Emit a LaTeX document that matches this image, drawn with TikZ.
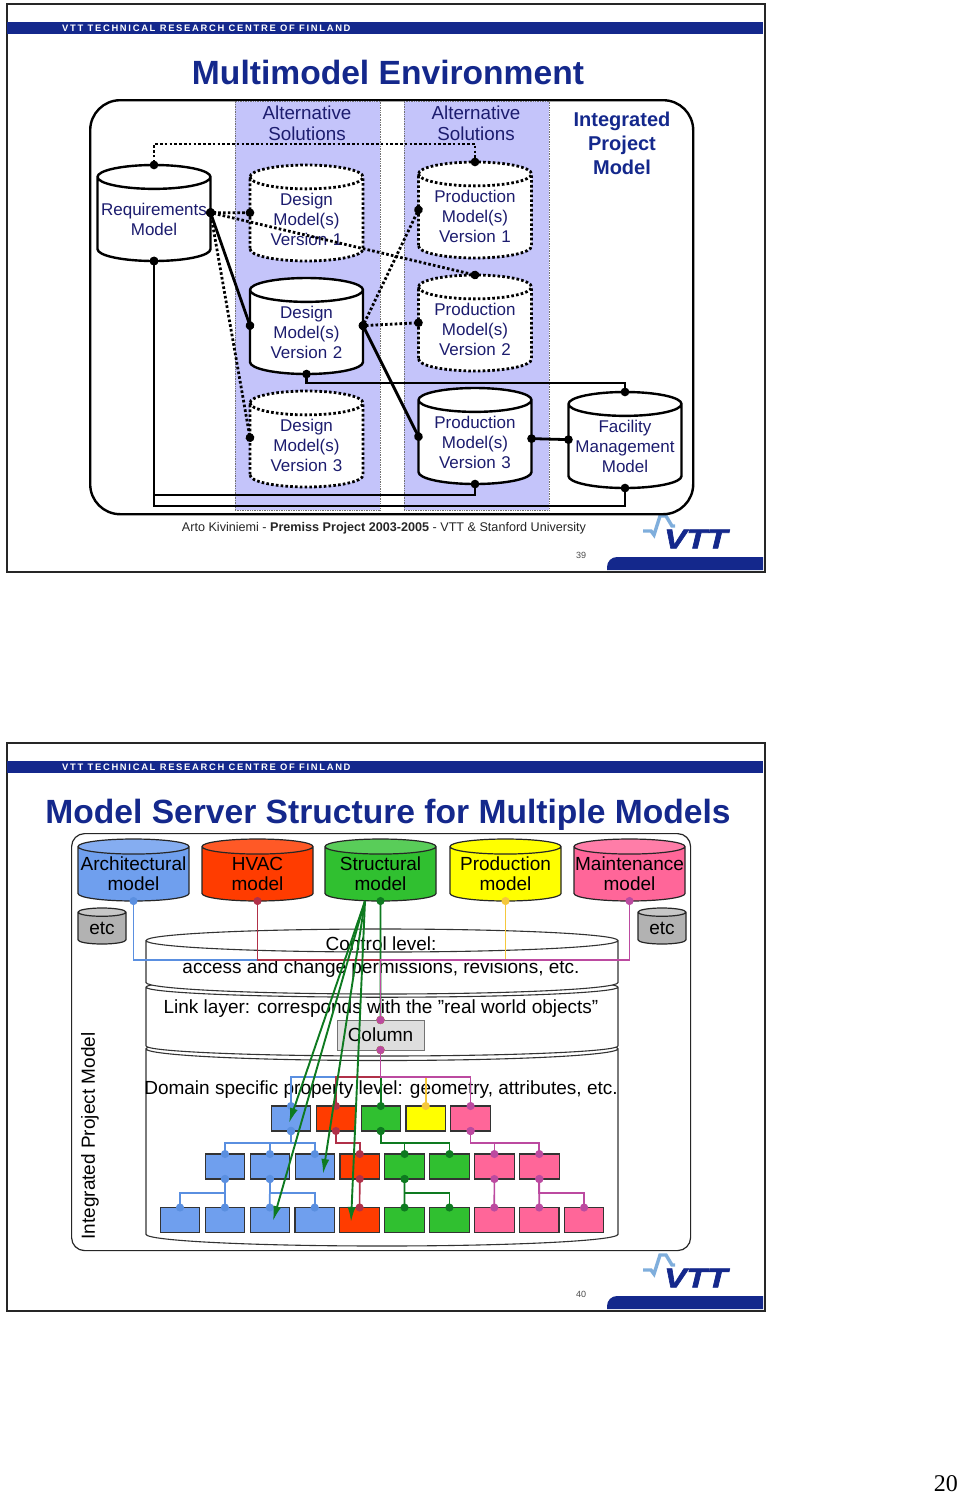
\documentclass[tikz,border=0pt]{standalone}
\usepackage{fontspec}
\setmainfont{Liberation Sans}
\usetikzlibrary{arrows.meta,positioning,shapes.geometric,calc}
\definecolor{vttnavy}{HTML}{14288C}
\definecolor{inkblue}{HTML}{1C1C6E}
\definecolor{bandblue}{HTML}{C4C4FA}
\definecolor{archblue}{HTML}{6F9FEE}
\definecolor{linkblue}{HTML}{5A8FE0}
\definecolor{hvacred}{HTML}{FF3C00}
\definecolor{linkred}{HTML}{B03048}
\definecolor{strgreen}{HTML}{30C030}
\definecolor{linkgreen}{HTML}{0E7A20}
\definecolor{prodyellow}{HTML}{FFFF00}
\definecolor{linkyellow}{HTML}{F5C83C}
\definecolor{maintpink}{HTML}{FF6699}
\definecolor{linkpink}{HTML}{BC4AA0}
\definecolor{logoblue}{HTML}{7FAEDC}
\newcommand{\fs}[2]{\fontsize{#1}{#2}\selectfont}
% frame, header bar, page number and logo of one slide
\newcommand{\slidebase}[2]{
\begin{scope}[shift={(0,#1)}]
\node[anchor=north west, draw=black!85, line width=2.4pt, minimum width=758pt, minimum height=568pt, fill=white] (page#2) at (6,3) {};
\node[anchor=north west, fill=vttnavy, minimum width=756pt, minimum height=12pt] (bar#2) at (7,22) {};
\node[anchor=west, text=white, font=\fs{9.4}{10}\bfseries\addfontfeature{LetterSpace=18}, inner sep=0pt] (org#2) at (62,28) {VTT TECHNICAL RESEARCH CENTRE OF FINLAND};
\fill[vttnavy] (607,570) [rounded corners=10pt] -- (607,557) [sharp corners] -- (763,557) -- (763,570) -- cycle;
\draw[line width=3.4pt, color=logoblue] (643,531) -- (651,531) -- (654,535) -- (660,516) -- (666,516) -- (672,526) -- (675,526);
\node[anchor=south west, inner sep=0pt, text=vttnavy, font=\fs{27}{27}\bfseries\itshape\addfontfeature{FakeBold=2}] (vtt#2) at (664,548.5) {\scalebox{1.24}[1]{VTT}};
\node[text=black!70, font=\fs{9}{10}, inner sep=0pt] (num#2) at (581,555) {#2};
\end{scope}
}
\begin{document}
\begin{tikzpicture}[
  x=1pt, y=-1pt,
  node distance=5.4pt,
  db/.style={cylinder, shape border rotate=90, aspect=.215, draw=black, line width=2.4pt, fill=white, minimum width=113pt, minimum height=96pt, text width=111pt, inner sep=0pt, outer sep=0pt, align=center, text=inkblue, font=\fs{17}{20}},
  dbdot/.style={db, dash pattern=on 2.6pt off 2.2pt, line width=2.8pt},
  band/.style={rectangle, anchor=north west, fill=bandblue, draw=black!55, densely dotted, line width=.7pt, minimum width=145pt, minimum height=409pt},
  head/.style={align=center, text=inkblue, inner sep=0pt, font=\fs{18.8}{21}},
  hard/.style={{Circle[length=8.5pt,sep=-4.2pt]}-{Circle[length=8.5pt,sep=-4.2pt]}, line width=2.8pt},
  soft/.style={hard, dash pattern=on 2.6pt off 2.2pt, line width=2.8pt},
  model/.style={cylinder, shape border rotate=90, aspect=.138, draw=black!85, line width=1.2pt, minimum width=111pt, minimum height=62pt, text width=109pt, inner sep=0pt, outer sep=0pt, align=center, anchor=north, font=\fs{19}{20}},
  etcdb/.style={model, aspect=.18, minimum width=48pt, minimum height=36pt, text width=46pt, cylinder uses custom fill, cylinder body fill=black!30, cylinder end fill=black!22},
  layer/.style={cylinder, shape border rotate=90, draw=black!80, line width=1.1pt, fill=white, minimum width=472pt, text width=470pt, inner sep=0pt, outer sep=0pt, anchor=north},
  txt/.style={align=center, inner sep=0pt, font=\fs{19}{23}},
  blk/.style={rectangle, draw=black!80, line width=1.1pt, minimum width=39.5pt, minimum height=25pt, inner sep=0pt, outer sep=0pt},
  tie/.style={{Circle[length=8pt,sep=-4pt]}-{Circle[length=8pt,sep=-4pt]}, line width=1.7pt},
  cross/.style={-{Latex[length=15pt,width=8pt]}, line width=1.9pt, draw=linkgreen}
]
\useasboundingbox (0,0) rectangle (960,1494);
\fill[white] (0,0) rectangle (960,1494);

\slidebase{0}{39}
\slidebase{739}{40}

% first slide
\node[font=\fs{33.6}{36}\bfseries, text=vttnavy, inner sep=0pt] (titlea) at (388,72) {Multimodel Environment};
\node[anchor=north west, draw=black, line width=2.4pt, rounded corners=30pt, minimum width=603pt, minimum height=414pt] (ipma) at (89,99) {};
\node[band] (banda) at (234.5,100.5) {};
\node[band] (bandb) at (404,100.5) {};
\node[head] (alta) at (307,123) {Alternative\\Solutions};
\node[head] (altb) at (476,123) {Alternative\\Solutions};
\node[align=center, text=vttnavy, inner sep=0pt, font=\fs{20}{24}\bfseries] (ipmlabel) at (622,143) {Integrated\\Project\\Model};

\node[db, anchor=north] (req) at (154,165) {Requirements\\Model};
\node[dbdot, anchor=north] (desa) at (306.5,165) {Design\\Model(s)\\Version 1};
\node[db, below=17pt of desa] (desb) {Design\\Model(s)\\Version 2};
\node[dbdot, below=17pt of desb] (desc) {Design\\Model(s)\\Version 3};
\node[dbdot, anchor=north] (proa) at (475,162) {Production\\Model(s)\\Version 1};
\node[dbdot, below=17pt of proa] (prob) {Production\\Model(s)\\Version 2};
\node[db, below=17pt of prob] (proc) {Production\\Model(s)\\Version 3};
\node[db, anchor=north] (fac) at (625,392) {Facility\\Management\\Model};

\draw[soft] (req.north) -- ++(0,-21) -| (proa.north);
\draw[soft] (req.7) -- (desa.173);
\draw[soft] (req.7) -- (prob.north);
\draw[hard] (req.7) -- (desb.173);
\draw[soft] (req.7) -- (desc.172);
\draw[soft] (desb.7) -- (proa.173);
\draw[soft] (desb.7) -- (prob.173);
\draw[hard] (desb.7) -- (proc.174);
\draw[hard] (desb.south) -- ++(0,9) -| (fac.north);
\draw[hard] (proc.4) -- (fac.173);
\draw[hard] (proc.south) -- ++(0,11) -| (req.south);
\draw[hard] (fac.south) -- ++(0,18) -| (req.south);

\node[font=\fs{12.6}{14}, text=black!85, inner sep=0pt] (credit) at (384,528) {Arto Kiviniemi - \textbf{Premiss Project 2003-2005} - VTT \& Stanford University};

% second slide
\node[font=\fs{33.6}{36}\bfseries, text=vttnavy, inner sep=0pt] (titleb) at (388,815) {Model Server Structure for Multiple Models};
\node[anchor=north west, draw=black!85, line width=1.2pt, rounded corners=13pt, minimum width=619pt, minimum height=417pt] (ipmb) at (71,833) {};
\node[rotate=90, inner sep=0pt, font=\fs{19}{20}] (ipmside) at (90,1136) {Integrated Project Model};

\node[model, cylinder uses custom fill, cylinder body fill=archblue, cylinder end fill=archblue!85!white] (arch) at (133.5,839) {Architectural\\model};
\node[model, cylinder uses custom fill, cylinder body fill=hvacred, cylinder end fill=hvacred!85!white] (hvac) at (257.5,839) {HVAC\\model};
\node[model, cylinder uses custom fill, cylinder body fill=strgreen, cylinder end fill=strgreen!80!white] (struc) at (380.5,839) {Structural\\model};
\node[model, cylinder uses custom fill, cylinder body fill=prodyellow, cylinder end fill=prodyellow] (prod) at (505.5,839) {Production\\model};
\node[model, cylinder uses custom fill, cylinder body fill=maintpink, cylinder end fill=maintpink!85!white] (maint) at (629.5,839) {Maintenance\\model};
\node[etcdb] (etca) at (102,908) {etc};
\node[etcdb] (etcb) at (662,908) {etc};

\node[layer, aspect=.05, minimum height=209pt] (layc) at (382,1037) {};
\node[layer, aspect=.043, minimum height=79pt] (layb) at (382,977) {};
\node[layer, aspect=.049, minimum height=65pt] (laya) at (382,929) {};

\node[txt] (ctrltxt) at (381,957) {Control level:\\access and change permissions, revisions, etc.};
\node[txt] (linktxt) at (381,1009) {Link layer: corresponds with the ”real world objects”};
\node[txt] (domtxt) at (381,1090) {Domain specific property level: geometry, attributes, etc.};
\node[rectangle, draw=black!55, line width=1pt, fill=black!13, minimum width=87pt, minimum height=30pt, inner sep=0pt, outer sep=0pt, font=\fs{19}{20}] (col) at (380.5,1035) {Column};

% tree of blocks
\node[blk, fill=archblue] (aa) at (291,1118.5) {};
\node[blk, fill=hvacred, right=of aa] (ab) {};
\node[blk, fill=strgreen, right=of ab] (ac) {};
\node[blk, fill=prodyellow, right=of ac] (ad) {};
\node[blk, fill=maintpink, right=of ad] (ae) {};

\node[blk, fill=archblue] (ba) at (225,1166.5) {};
\node[blk, fill=archblue, right=of ba] (bb) {};
\node[blk, fill=archblue, right=of bb] (bc) {};
\node[blk, fill=hvacred, right=of bc] (bd) {};
\node[blk, fill=strgreen, right=of bd] (be) {};
\node[blk, fill=strgreen, right=of be] (bf) {};
\node[blk, fill=maintpink, right=of bf] (bg) {};
\node[blk, fill=maintpink, right=of bg] (bh) {};

\node[blk, fill=archblue] (ca) at (180,1220) {};
\node[blk, fill=archblue, right=of ca] (cb) {};
\node[blk, fill=archblue, right=of cb] (cc) {};
\node[blk, fill=archblue, right=of cc] (cd) {};
\node[blk, fill=hvacred, right=of cd] (ce) {};
\node[blk, fill=strgreen, right=of ce] (cf) {};
\node[blk, fill=strgreen, right=of cf] (cg) {};
\node[blk, fill=maintpink, right=of cg] (ch) {};
\node[blk, fill=maintpink, right=of ch] (ci) {};
\node[blk, fill=maintpink, right=of ci] (cj) {};

% models to column
\draw[tie, linkblue] (arch.south) -- ++(0,59) -| (col.north);
\draw[tie, linkred] (hvac.south) -- ++(0,59) -| (col.north);
\draw[tie, linkgreen] (struc.south) -- (col.north);
\draw[tie, linkyellow] (prod.south) -- ++(0,59) -| (col.north);
\draw[tie, linkpink] (maint.south) -- ++(0,59) -| (col.north);

% column to first row
\draw[tie, linkblue] (col.south) -- ++(0,27) -| (aa.north);
\draw[tie, linkred] (col.south) -- ++(0,27) -| (ab.north);
\draw[tie, linkgreen] (col.south) -- ++(0,27) -| (ac.north);
\draw[tie, linkyellow] (col.south) -- ++(0,27) -| (ad.north);
\draw[tie, linkpink] (col.south) -- ++(0,27) -| (ae.north);

% first row to second row
\draw[tie, linkblue] (aa.south) -- ++(0,12) -| (ba.north);
\draw[tie, linkblue] (aa.south) -- ++(0,12) -| (bb.north);
\draw[tie, linkblue] (aa.south) -- ++(0,12) -| (bc.north);
\draw[tie, linkred] (ab.south) -- ++(0,12) -| (bd.north);
\draw[tie, linkgreen] (ac.south) -- ++(0,12) -| (be.north);
\draw[tie, linkgreen] (ac.south) -- ++(0,12) -| (bf.north);
\draw[tie, linkpink] (ae.south) -- ++(0,12) -| (bg.north);
\draw[tie, linkpink] (ae.south) -- ++(0,12) -| (bh.north);

% second row to third row
\draw[tie, linkblue] (ba.south) -- ++(0,14) -| (ca.north);
\draw[tie, linkblue] (ba.south) -- (cb.north);
\draw[tie, linkblue] (bb.south) -- (cc.north);
\draw[tie, linkblue] (bb.south) -- ++(0,14) -| (cd.north);
\draw[tie, linkred] (bd.south) -- (ce.north);
\draw[tie, linkgreen] (be.south) -- (cf.north);
\draw[tie, linkgreen] (be.south) -- ++(0,14) -| (cg.north);
\draw[tie, linkpink] (bg.south) -- (ch.north);
\draw[tie, linkpink] (bh.south) -- (ci.north);
\draw[tie, linkpink] (bh.south) -- ++(0,14) -| (cj.north);

% arrows out of the structural model
\coordinate (sfoot) at (365,901);
\coordinate (tipa) at (289,1123);
\coordinate (tipb) at (273,1221);
\coordinate (tipc) at (323,1174);
\coordinate (tipd) at (351,1222);
\draw[cross] (sfoot) -- (tipa);
\draw[cross] (sfoot) -- (tipb);
\draw[cross] (sfoot) -- (tipc);
\draw[cross] (sfoot) -- (tipd);

\node[anchor=east, inner sep=0pt, font=\fontspec{Liberation Serif}\fs{24}{24}] (sheet) at (958,1484) {20};
\end{tikzpicture}
\end{document}
